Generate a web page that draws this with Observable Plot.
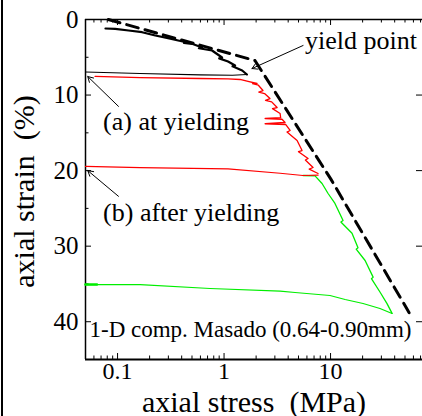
<!DOCTYPE html>
<html><head><meta charset="utf-8">
<script src="https://cdn.jsdelivr.net/npm/d3@7"></script>
<script src="https://cdn.jsdelivr.net/npm/@observablehq/plot@0.6"></script>
<style>
html,body{margin:0;padding:0;background:#fff;}
#wrap{position:relative;width:422px;height:416px;overflow:hidden;}
#edge{position:absolute;left:1px;top:0;width:2px;height:416px;background:#000;}
svg text{white-space:pre;}
</style></head><body><div id="wrap"><div id="edge"></div></div>
<script>
// [stress (MPa), axial strain (%)]
const blackLoad = [[0.077,1.19],[0.095,1.24],[0.127,1.46],[0.17,1.68],[0.226,2.12],[0.298,2.47],[0.371,2.78],[0.45,3.05],[0.42,3.1],[0.50,3.22],[0.623,3.71],[0.58,3.8],[0.771,4.10],[0.958,5.03],[0.9,5.15],[1.09,5.56],[1.27,6.09],[1.2,6.2],[1.48,6.75],[1.64,7.28]];
const blackUnload = [[1.64,7.28],[1.2,7.38],[0.6,7.32],[0.163,7.15],[0.05,6.95]];
const redLoad = [[0.0615,7.54],[0.163,7.68],[0.595,7.81],[1.09,7.85],[1.41,7.94],[1.68,8.2],[2.04,8.47],[1.85,8.5],[2.1,8.7],[2.32,9.4],[2.12,9.6],[2.4,9.8],[2.70,10.46],[2.45,10.7],[2.8,10.9],[3.15,11.65],[2.85,11.8],[3.36,12.44],[3.4,13.0],[2.43,13.1],[3.5,13.2],[3.74,13.63],[2.43,13.8],[3.8,13.9],[4.17,14.69],[3.9,14.9],[4.85,16.02],[5.40,17.34],[5.0,17.5],[6.15,18.40],[5.8,18.6],[6.85,19.59],[6.3,19.8],[7.63,20.38]];
const redUnload = [[7.63,20.6],[5.5,20.65],[3.36,20.35],[1.09,19.77],[0.163,19.6],[0.05,19.45]];
const greenLoad = [[5.52,20.65],[7.15,20.7],[8.32,21.71],[9.48,23.03],[11.0,24.35],[13.1,26.6],[12.5,26.8],[15.9,28.3],[18.1,30.2],[17.4,30.4],[21.1,31.9],[25.1,34.1],[24.2,34.3],[29.2,36.1],[33.9,37.6],[37.8,38.9]];
const greenUnload = [[37.8,38.91],[29.1,38.25],[20.2,37.59],[13.7,37.06],[9.88,36.53],[4.64,36.13],[3.36,35.94],[0.739,35.6],[0.163,35.1],[0.05,35.08]];
const greenUnloadEnd = [[0.064,35.08],[0.05,35.08]];
const yieldLine = [[0.082,0],[1.95,5.43],[10,21.06],[54.7,38.8]];

const xMajor = [0.1, 1, 10];
const xMajorLabels = ["0.1", "1", "10"];
const xMinor = [0.06,0.07,0.08,0.09,0.2,0.3,0.4,0.5,0.6,0.7,0.8,0.9,2,3,4,5,6,7,8,9,20,30,40,50,60,70];
const yMajor = [0, 10, 20, 30, 40];
const yMinor = [5, 15, 25, 35];

const notes = ["yield point", "(a) at yielding", "(b) after yielding"];
const noteX = [5.76, 0.0731, 0.0731];
const noteY = [2.8, 13.5, 25.55];
const arrowFrom = [[5.52,3.44],[0.102,11.5],[0.102,23.4]];
const arrowTo = [[1.83,6.49],[0.0525,7.55],[0.0525,20.0]];
const caption = "1-D comp. Masado (0.64-0.90mm)";
const xTitle = "axial stress  (MPa)";
const yTitle = "axial strain  (%)";

const FONT = "'Liberation Serif', 'Times New Roman', Times, serif";
const W = 422, H = 416, mL = 85, mR = 0, mT = 19, mB = 57;
const fw = W - mL - mR, fh = H - mT - mB;
const ln = (data, o) => Plot.line(data, {x: d => d[0], y: d => d[1], ...o});
const txt = {fontFamily: FONT, fill: "black"};

const chart = Plot.plot({
  width: W, height: H,
  marginLeft: mL, marginRight: mR, marginTop: mT, marginBottom: mB,
  style: {fontFamily: FONT, background: "white", color: "black", overflow: "visible"},
  x: {type: "log", domain: [0.05, 73], axis: null},
  y: {domain: [0, 45], reverse: true, axis: null},
  marks: [
    // ticks
    Plot.ruleX(xMajor, {x: d => d, insetTop: fh - 6, stroke: "black"}),
    Plot.ruleX(xMinor, {x: d => d, insetTop: fh - 3.5, stroke: "black"}),
    Plot.ruleX(xMajor, {x: d => d, insetBottom: fh - 6, stroke: "black"}),
    Plot.ruleX(xMinor, {x: d => d, insetBottom: fh - 3.5, stroke: "black"}),
    Plot.ruleY(yMajor, {y: d => d, insetRight: fw - 6, stroke: "black"}),
    Plot.ruleY(yMinor, {y: d => d, insetRight: fw - 3.5, stroke: "black"}),
    Plot.ruleY(yMajor.slice(1), {y: d => d, insetLeft: fw - 6, stroke: "black"}),
    // frame
    Plot.ruleY([0], {stroke: "black", strokeWidth: 1.5}),
    Plot.ruleY([45], {stroke: "black", strokeWidth: 2}),
    Plot.ruleX([0.05], {stroke: "black", strokeWidth: 1.5}),
    // tick labels
    Plot.text(xMajor, {x: d => d, text: (d, i) => xMajorLabels[i], frameAnchor: "bottom", dy: 19, fontSize: 24, ...txt}),
    Plot.text(yMajor, {y: d => d, text: d => String(d), frameAnchor: "left", textAnchor: "end", dx: -7, fontSize: 25, ...txt}),
    // axis titles
    Plot.text([xTitle], {frameAnchor: "bottom", textAnchor: "middle", dy: 52, fontSize: 30, ...txt}),
    Plot.text([yTitle], {frameAnchor: "left", textAnchor: "middle", rotate: -90, dx: -61, dy: 2, fontSize: 30, ...txt}),
    // data
    ln(yieldLine, {stroke: "black", strokeWidth: 3, strokeDasharray: "12,7"}),
    ln(greenUnload, {stroke: "#00ee00", strokeWidth: 1.2}),
    ln(greenUnloadEnd, {stroke: "#00ee00", strokeWidth: 2.6}),
    ln(greenLoad, {stroke: "#00ee00", strokeWidth: 1.3}),
    ln(redUnload, {stroke: "#ff0000", strokeWidth: 1.2}),
    ln(redLoad, {stroke: "#ff0000", strokeWidth: 1.3}),
    ln(blackUnload, {stroke: "black", strokeWidth: 1.2}),
    ln(blackLoad, {stroke: "black", strokeWidth: 2.2}),
    // annotations
    Plot.arrow(notes, {x1: (d, i) => arrowFrom[i][0], y1: (d, i) => arrowFrom[i][1], x2: (d, i) => arrowTo[i][0], y2: (d, i) => arrowTo[i][1], stroke: "black", strokeWidth: 1, headLength: 9}),
    Plot.text(notes, {x: (d, i) => noteX[i], y: (d, i) => noteY[i], text: d => d, textAnchor: "start", fontSize: 26, ...txt}),
    Plot.text([caption], {frameAnchor: "bottom-left", textAnchor: "start", dx: 4, dy: -23, fontSize: 23, ...txt})
  ]
});
document.getElementById("wrap").appendChild(chart);
</script>
</body></html>
